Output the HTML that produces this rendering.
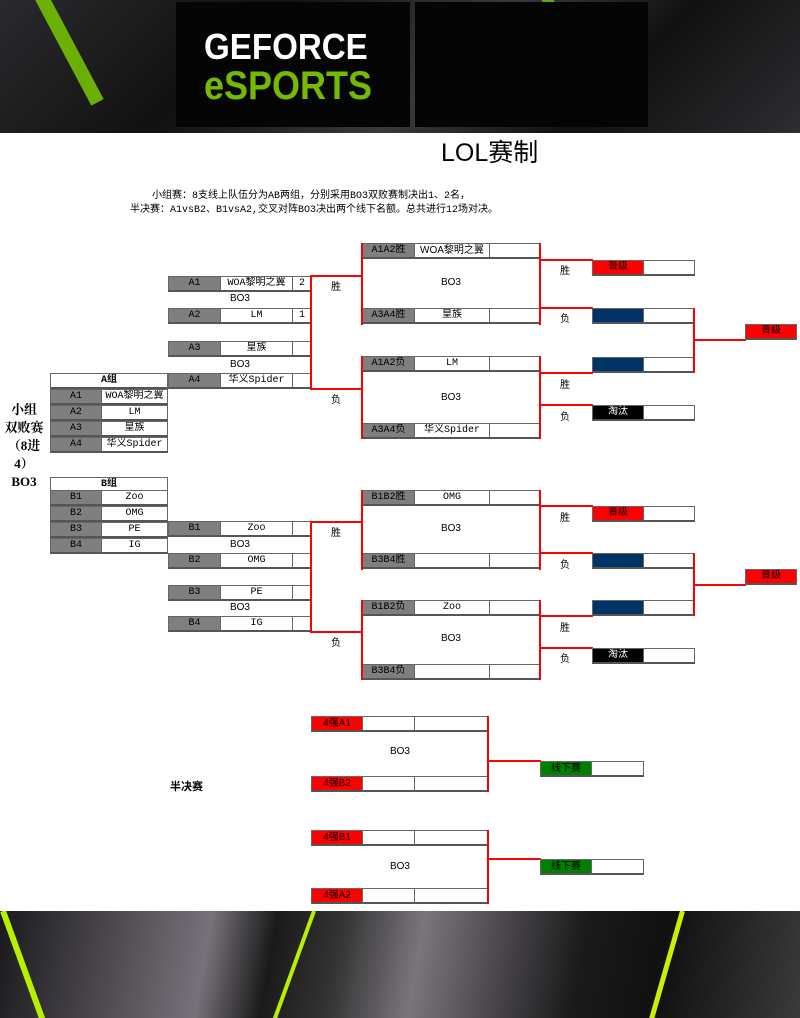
<!DOCTYPE html>
<html><head><meta charset="utf-8"><style>
*{margin:0;padding:0}
body{width:800px;height:1018px;position:relative;overflow:hidden;background:#fff;font-family:"Liberation Mono","Noto Sans CJK SC",monospace}
.c{position:absolute;box-sizing:border-box;border:1px solid #666;border-bottom:2px solid #555;height:16px;font-size:10px;line-height:14px;text-align:center;background:#fff;color:#000;white-space:nowrap;overflow:hidden}
.g{background:#7f7f7f}
.r{background:#f00}
.b{background:#003366}
.k{background:#000;color:#fff}
.gr{background:#008000}
.h{position:absolute;height:2px;background:#f00}
.v{position:absolute;width:2px;background:#f00}
.t{position:absolute;font-size:10px;text-align:center;white-space:nowrap;font-family:"Liberation Sans","Noto Sans CJK SC",sans-serif}
.s{font-family:"Liberation Sans","Noto Sans CJK SC",sans-serif}
.bg{position:absolute;left:0;width:800px;overflow:hidden;background:linear-gradient(135deg,#2a2a2d 0%,#111 30%,#3a383d 55%,#111 75%,#2e2c30 100%)}
</style></head><body>
<div class="bg" style="top:0;height:133px">
 <div style="position:absolute;left:60px;top:-20px;width:14px;height:130px;background:#7fd500;transform:rotate(-28deg);opacity:.8"></div>
 <div style="position:absolute;left:560px;top:-20px;width:10px;height:90px;background:#7fd500;transform:rotate(-35deg);opacity:.7"></div>
 <div style="position:absolute;left:176px;top:2px;width:234px;height:125px;background:#050505"></div>
 <div style="position:absolute;left:415px;top:2px;width:233px;height:125px;background:#050505"></div>
 <div style="position:absolute;left:204px;top:26px;font:bold 36px 'Liberation Sans',sans-serif;color:#fff;transform:scaleX(.92);transform-origin:left">GEFORCE</div>
 <div style="position:absolute;left:204px;top:64px;font:bold 40px 'Liberation Sans',sans-serif;color:#76b900;transform:scaleX(.9);transform-origin:left">eSPORTS</div>
</div>
<div class="bg" style="top:911px;height:107px;background:linear-gradient(100deg,#1a1a1c 0%,#5a565c 18%,#77727a 26%,#1a1a1a 34%,#333 42%,#7a757c 52%,#4a474c 62%,#1a1a1a 72%,#111 82%,#3a3a3a 100%)">
 <div style="position:absolute;left:0px;top:0;width:6px;height:120px;background:#b7f000;transform:rotate(-20deg);transform-origin:top"></div>
 <div style="position:absolute;left:312px;top:0;width:4px;height:120px;background:#b7f000;transform:rotate(20deg);transform-origin:top"></div>
 <div style="position:absolute;left:680px;top:0;width:5px;height:120px;background:#c8f000;transform:rotate(16deg);transform-origin:top"></div>
</div>

<div class="s" style="position:absolute;left:441px;top:133px;font-size:25px">LOL赛制</div>
<div style="position:absolute;left:152px;top:186px;font-size:10px">小组赛：8支线上队伍分为AB两组，分别采用BO3双败赛制决出1、2名，</div>
<div style="position:absolute;left:130px;top:200px;font-size:10px">半决赛：A1vsB2、B1vsA2,交叉对阵BO3决出两个线下名额。总共进行12场对决。</div>

<div style="position:absolute;left:1px;top:401px;width:46px;font:bold 13px 'Liberation Serif','Noto Serif CJK SC',serif;line-height:18px;text-align:center">小组<br>双败赛<br>（8进<br>4）<br>BO3</div>

<div class="c" style="left:50px;top:373px;width:118px;font-weight:bold">A组</div>
<div class="c g" style="left:50px;top:389px;width:52px">A1</div><div class="c" style="left:101px;top:389px;width:67px">WOA黎明之翼</div>
<div class="c g" style="left:50px;top:405px;width:52px">A2</div><div class="c" style="left:101px;top:405px;width:67px">LM</div>
<div class="c g" style="left:50px;top:421px;width:52px">A3</div><div class="c" style="left:101px;top:421px;width:67px">皇族</div>
<div class="c g" style="left:50px;top:437px;width:52px">A4</div><div class="c" style="left:101px;top:437px;width:67px">华义Spider</div>
<div class="c" style="left:50px;top:477px;width:118px;font-weight:bold">B组</div>
<div class="c g" style="left:50px;top:490px;width:52px">B1</div><div class="c" style="left:101px;top:490px;width:67px">Zoo</div>
<div class="c g" style="left:50px;top:506px;width:52px">B2</div><div class="c" style="left:101px;top:506px;width:67px">OMG</div>
<div class="c g" style="left:50px;top:522px;width:52px">B3</div><div class="c" style="left:101px;top:522px;width:67px">PE</div>
<div class="c g" style="left:50px;top:538px;width:52px">B4</div><div class="c" style="left:101px;top:538px;width:67px">IG</div>

<div class="c g" style="left:168px;top:276px;width:53px">A1</div><div class="c" style="left:220px;top:276px;width:73px">WOA黎明之翼</div><div class="c" style="left:292px;top:276px;width:20px">2</div>
<div class="t" style="left:168px;top:293px;width:144px">BO3</div>
<div class="c g" style="left:168px;top:308px;width:53px">A2</div><div class="c" style="left:220px;top:308px;width:73px">LM</div><div class="c" style="left:292px;top:308px;width:20px">1</div>
<div class="c g" style="left:168px;top:341px;width:53px">A3</div><div class="c" style="left:220px;top:341px;width:73px">皇族</div><div class="c" style="left:292px;top:341px;width:20px"></div>
<div class="t" style="left:168px;top:359px;width:144px">BO3</div>
<div class="c g" style="left:168px;top:373px;width:53px">A4</div><div class="c" style="left:220px;top:373px;width:73px">华义Spider</div><div class="c" style="left:292px;top:373px;width:20px"></div>
<div class="v" style="left:310px;top:275px;height:115px"></div>
<div class="h" style="left:310px;top:275px;width:53px"></div>
<div class="h" style="left:310px;top:388px;width:53px"></div>
<div class="t" style="left:328px;top:278px;width:16px">胜</div>
<div class="t" style="left:328px;top:391px;width:16px">负</div>

<div class="c g" style="left:168px;top:521px;width:53px">B1</div><div class="c" style="left:220px;top:521px;width:73px">Zoo</div><div class="c" style="left:292px;top:521px;width:20px"></div>
<div class="t" style="left:168px;top:539px;width:144px">BO3</div>
<div class="c g" style="left:168px;top:553px;width:53px">B2</div><div class="c" style="left:220px;top:553px;width:73px">OMG</div><div class="c" style="left:292px;top:553px;width:20px"></div>
<div class="c g" style="left:168px;top:585px;width:53px">B3</div><div class="c" style="left:220px;top:585px;width:73px">PE</div><div class="c" style="left:292px;top:585px;width:20px"></div>
<div class="t" style="left:168px;top:602px;width:144px">BO3</div>
<div class="c g" style="left:168px;top:616px;width:53px">B4</div><div class="c" style="left:220px;top:616px;width:73px">IG</div><div class="c" style="left:292px;top:616px;width:20px"></div>
<div class="v" style="left:310px;top:521px;height:112px"></div>
<div class="h" style="left:310px;top:521px;width:53px"></div>
<div class="h" style="left:310px;top:631px;width:53px"></div>
<div class="t" style="left:328px;top:524px;width:16px">胜</div>
<div class="t" style="left:328px;top:634px;width:16px">负</div>

<div class="c g" style="left:362px;top:243px;width:53px">A1A2胜</div><div class="c s" style="left:414px;top:243px;width:76px">WOA黎明之翼</div><div class="c" style="left:489px;top:243px;width:52px"></div>
<div class="t" style="left:362px;top:277px;width:178px">BO3</div>
<div class="c g" style="left:362px;top:308px;width:53px">A3A4胜</div><div class="c" style="left:414px;top:308px;width:76px">皇族</div><div class="c" style="left:489px;top:308px;width:52px"></div>
<div class="v" style="left:361px;top:243px;height:82px"></div>
<div class="v" style="left:539px;top:243px;height:82px"></div>
<div class="c g" style="left:362px;top:356px;width:53px">A1A2负</div><div class="c" style="left:414px;top:356px;width:76px">LM</div><div class="c" style="left:489px;top:356px;width:52px"></div>
<div class="t" style="left:362px;top:392px;width:178px">BO3</div>
<div class="c g" style="left:362px;top:423px;width:53px">A3A4负</div><div class="c" style="left:414px;top:423px;width:76px">华义Spider</div><div class="c" style="left:489px;top:423px;width:52px"></div>
<div class="v" style="left:361px;top:356px;height:83px"></div>
<div class="v" style="left:539px;top:356px;height:83px"></div>

<div class="h" style="left:540px;top:259px;width:53px"></div>
<div class="h" style="left:540px;top:307px;width:53px"></div>
<div class="t" style="left:557px;top:262px;width:16px">胜</div>
<div class="t" style="left:557px;top:310px;width:16px">负</div>
<div class="c r" style="left:592px;top:260px;width:52px">晋级</div><div class="c" style="left:643px;top:260px;width:52px"></div>
<div class="c b" style="left:592px;top:308px;width:52px"></div><div class="c" style="left:643px;top:308px;width:52px"></div>
<div class="c b" style="left:592px;top:357px;width:52px"></div><div class="c" style="left:643px;top:357px;width:52px"></div>
<div class="v" style="left:693px;top:308px;height:65px"></div>
<div class="h" style="left:694px;top:339px;width:52px"></div>
<div class="c r" style="left:745px;top:324px;width:52px">晋级</div>
<div class="h" style="left:540px;top:372px;width:53px"></div>
<div class="h" style="left:540px;top:404px;width:53px"></div>
<div class="t" style="left:557px;top:376px;width:16px">胜</div>
<div class="t" style="left:557px;top:408px;width:16px">负</div>
<div class="c k" style="left:592px;top:405px;width:52px">淘汰</div><div class="c" style="left:643px;top:405px;width:52px"></div>

<div class="c g" style="left:362px;top:490px;width:53px">B1B2胜</div><div class="c" style="left:414px;top:490px;width:76px">OMG</div><div class="c" style="left:489px;top:490px;width:52px"></div>
<div class="t" style="left:362px;top:523px;width:178px">BO3</div>
<div class="c g" style="left:362px;top:553px;width:53px">B3B4胜</div><div class="c" style="left:414px;top:553px;width:76px"></div><div class="c" style="left:489px;top:553px;width:52px"></div>
<div class="v" style="left:361px;top:490px;height:80px"></div>
<div class="v" style="left:539px;top:490px;height:80px"></div>
<div class="c g" style="left:362px;top:600px;width:53px">B1B2负</div><div class="c" style="left:414px;top:600px;width:76px">Zoo</div><div class="c" style="left:489px;top:600px;width:52px"></div>
<div class="t" style="left:362px;top:633px;width:178px">BO3</div>
<div class="c g" style="left:362px;top:664px;width:53px">B3B4负</div><div class="c" style="left:414px;top:664px;width:76px"></div><div class="c" style="left:489px;top:664px;width:52px"></div>
<div class="v" style="left:361px;top:600px;height:80px"></div>
<div class="v" style="left:539px;top:600px;height:80px"></div>

<div class="h" style="left:540px;top:505px;width:53px"></div>
<div class="h" style="left:540px;top:552px;width:53px"></div>
<div class="t" style="left:557px;top:509px;width:16px">胜</div>
<div class="t" style="left:557px;top:556px;width:16px">负</div>
<div class="c r" style="left:592px;top:506px;width:52px">晋级</div><div class="c" style="left:643px;top:506px;width:52px"></div>
<div class="c b" style="left:592px;top:553px;width:52px"></div><div class="c" style="left:643px;top:553px;width:52px"></div>
<div class="c b" style="left:592px;top:600px;width:52px"></div><div class="c" style="left:643px;top:600px;width:52px"></div>
<div class="v" style="left:693px;top:553px;height:63px"></div>
<div class="h" style="left:694px;top:584px;width:52px"></div>
<div class="c r" style="left:745px;top:569px;width:52px">晋级</div>
<div class="h" style="left:540px;top:615px;width:53px"></div>
<div class="h" style="left:540px;top:647px;width:53px"></div>
<div class="t" style="left:557px;top:619px;width:16px">胜</div>
<div class="t" style="left:557px;top:650px;width:16px">负</div>
<div class="c k" style="left:592px;top:648px;width:52px">淘汰</div><div class="c" style="left:643px;top:648px;width:52px"></div>

<div class="s" style="position:absolute;left:170px;top:778px;font-size:11px;font-weight:bold">半决赛</div>
<div class="c r s" style="left:311px;top:716px;width:52px">4强A1</div><div class="c" style="left:362px;top:716px;width:53px"></div><div class="c" style="left:414px;top:716px;width:75px"></div>
<div class="t" style="left:311px;top:746px;width:178px">BO3</div>
<div class="c r s" style="left:311px;top:776px;width:52px">4强B2</div><div class="c" style="left:362px;top:776px;width:53px"></div><div class="c" style="left:414px;top:776px;width:75px"></div>
<div class="v" style="left:487px;top:716px;height:76px"></div>
<div class="h" style="left:488px;top:760px;width:53px"></div>
<div class="c gr s" style="left:540px;top:761px;width:52px">线下赛</div><div class="c" style="left:591px;top:761px;width:53px"></div>

<div class="c r s" style="left:311px;top:830px;width:52px">4强B1</div><div class="c" style="left:362px;top:830px;width:53px"></div><div class="c" style="left:414px;top:830px;width:75px"></div>
<div class="t" style="left:311px;top:861px;width:178px">BO3</div>
<div class="c r s" style="left:311px;top:888px;width:52px">4强A2</div><div class="c" style="left:362px;top:888px;width:53px"></div><div class="c" style="left:414px;top:888px;width:75px"></div>
<div class="v" style="left:487px;top:830px;height:74px"></div>
<div class="h" style="left:488px;top:858px;width:53px"></div>
<div class="c gr s" style="left:540px;top:859px;width:52px">线下赛</div><div class="c" style="left:591px;top:859px;width:53px"></div>
</body></html>
